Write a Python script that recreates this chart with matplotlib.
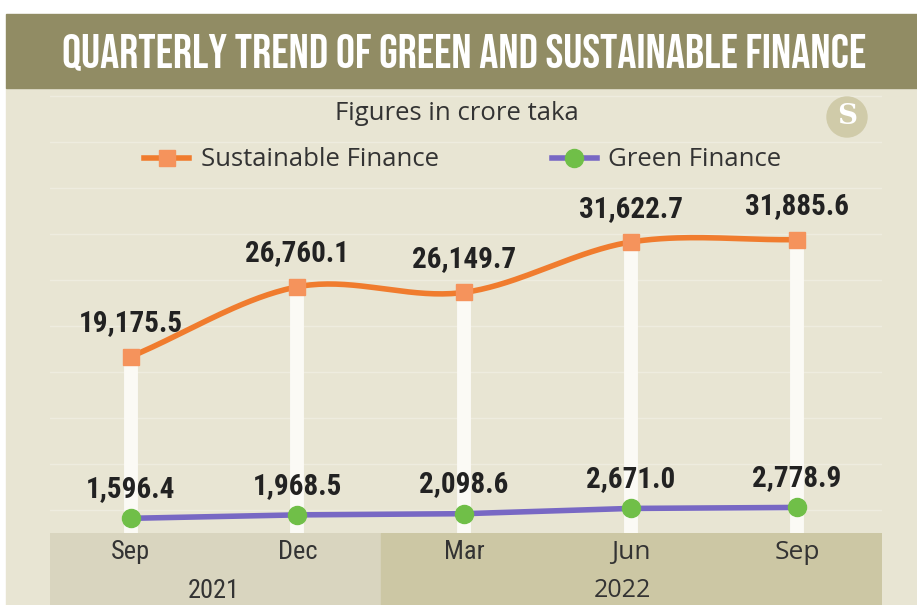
import numpy as np
import matplotlib
matplotlib.use("Agg")
import matplotlib.pyplot as plt
from matplotlib.patches import Rectangle, Ellipse
from matplotlib.lines import Line2D

quarters = ["Sep", "Dec", "Mar", "Jun", "Sep"]
years = ["2021", "2022"]
sustainable = [19175.5, 26760.1, 26149.7, 31622.7, 31885.6]
green = [1596.4, 1968.5, 2098.6, 2671.0, 2778.9]

W, H = 917, 605
BEBAS = ["Bebas Neue", "DejaVu Sans"]
COND = ["Roboto Condensed", "DejaVu Sans"]
REG = ["Open Sans", "DejaVu Sans"]


def smooth(xs, ys, n=40):
    # catmull-rom curve through the points, only for drawing
    xs = np.asarray(xs, float)
    ys = np.asarray(ys, float)
    m = np.gradient(ys, xs)
    out_x, out_y = [], []
    for i in range(len(xs) - 1):
        h = xs[i + 1] - xs[i]
        t = np.linspace(0, 1, n)
        h00 = 2 * t**3 - 3 * t**2 + 1
        h10 = t**3 - 2 * t**2 + t
        h01 = -2 * t**3 + 3 * t**2
        h11 = t**3 - t**2
        out_x.append(xs[i] + t * h)
        out_y.append(h00 * ys[i] + h10 * h * m[i] + h01 * ys[i + 1] + h11 * h * m[i + 1])
    return np.concatenate(out_x), np.concatenate(out_y)


fig = plt.figure(figsize=(W / 100, H / 100), dpi=100)
fig.patch.set_facecolor("white")

# background blocks
fig.add_artist(Rectangle((6 / W, 0), 1 - 6 / W, 1 - 88 / H, transform=fig.transFigure,
                         color="#e8e5d3", zorder=0))
fig.add_artist(Rectangle((6 / W, 1 - 88 / H), 1 - 6 / W, 74 / H, transform=fig.transFigure,
                         color="#918c64", zorder=0))
fig.text(464 / W, 1 - 52 / H, "QUARTERLY TREND OF GREEN AND SUSTAINABLE FINANCE",
         color="white", fontsize=34.2, family=BEBAS, ha="center", va="center")

# logo
fig.add_artist(Ellipse((847 / W, 1 - 117 / H), 40 / W, 40 / H, transform=fig.transFigure,
                       color="#d0cba9", zorder=1))
fig.text(847 / W, 1 - 117 / H, "S", color="white", fontsize=20, fontweight="bold",
         family="DejaVu Serif", ha="center", va="center")

fig.text(457 / W, 1 - 114 / H, "Figures in crore taka", color="#333333",
         fontsize=18.5, family=REG, ha="center", va="center")

x = np.arange(len(quarters))
ax = fig.add_axes([50 / W, (H - 533) / H, 832 / W, 445 / H])
ax.set_facecolor("none")
ax.set_xlim(-0.486, 4.51)
ax.set_ylim(0, 48370)
for s in ax.spines.values():
    s.set_visible(False)
ax.set_xticks([])
ax.set_yticks([])

for gy in np.arange(2500, 48000, 5000):
    ax.axhline(gy, color="#eeecdf", lw=1, zorder=1)

ax.vlines(x, 0, sustainable, color="#fbfaf5", lw=10, zorder=2)
sx, sy = smooth(x, sustainable)
ax.plot(sx, sy, color="#f07c2e", lw=4, zorder=3, solid_capstyle="round")
ax.plot(x, sustainable, ls="none", marker="s", ms=11, color="#f5935c", zorder=4)
ax.plot(x, green, color="#7868c4", lw=4, zorder=3, solid_capstyle="round")
ax.plot(x, green, ls="none", marker="o", ms=13, color="#70bf48", zorder=4)

for xi, v in zip(x, sustainable):
    ax.annotate(f"{v:,.1f}", (xi, v), xytext=(0, 14), textcoords="offset points",
                ha="center", va="bottom", fontsize=21, fontweight="bold",
                family=COND, color="#222222")
for xi, v in zip(x, green):
    ax.annotate(f"{v:,.1f}", (xi, v), xytext=(0, 11), textcoords="offset points",
                ha="center", va="bottom", fontsize=21, fontweight="bold",
                family=COND, color="#222222")

handles = [Line2D([], [], color="#f07c2e", lw=4, marker="s", ms=11, mfc="#f5935c", mec="#f5935c"),
           Line2D([], [], color="#7868c4", lw=4, marker="o", ms=13, mfc="#70bf48", mec="#70bf48")]
fig.legend(handles, ["Sustainable Finance", "Green Finance"], loc="center",
           bbox_to_anchor=(463 / W, 1 - 160 / H), ncol=2, frameon=False,
           prop={"family": REG, "size": 18.5}, handlelength=1.75, columnspacing=4.4,
           handletextpad=0.45, labelcolor="#333333")

# x band
bx = fig.add_axes([50 / W, 0, 832 / W, (H - 533) / H])
bx.set_xlim(ax.get_xlim())
bx.set_ylim(0, 1)
bx.axis("off")
bx.axvspan(-0.486, 1.5, color="#d9d5bf")
bx.axvspan(1.5, 4.51, color="#ccc7a4")
for i, q in enumerate(quarters):
    fam = COND if i < 3 else REG
    bx.text(i, 0.73, q, ha="center", va="center", fontsize=19, family=fam, color="#333333")
bx.text(0.5, 0.2, years[0], ha="center", va="center", fontsize=19, family=COND, color="#333333")
bx.text(2.95, 0.2, years[1], ha="center", va="center", fontsize=18, family=REG, color="#333333")

fig.savefig("out.png", dpi=100, facecolor=fig.get_facecolor())
